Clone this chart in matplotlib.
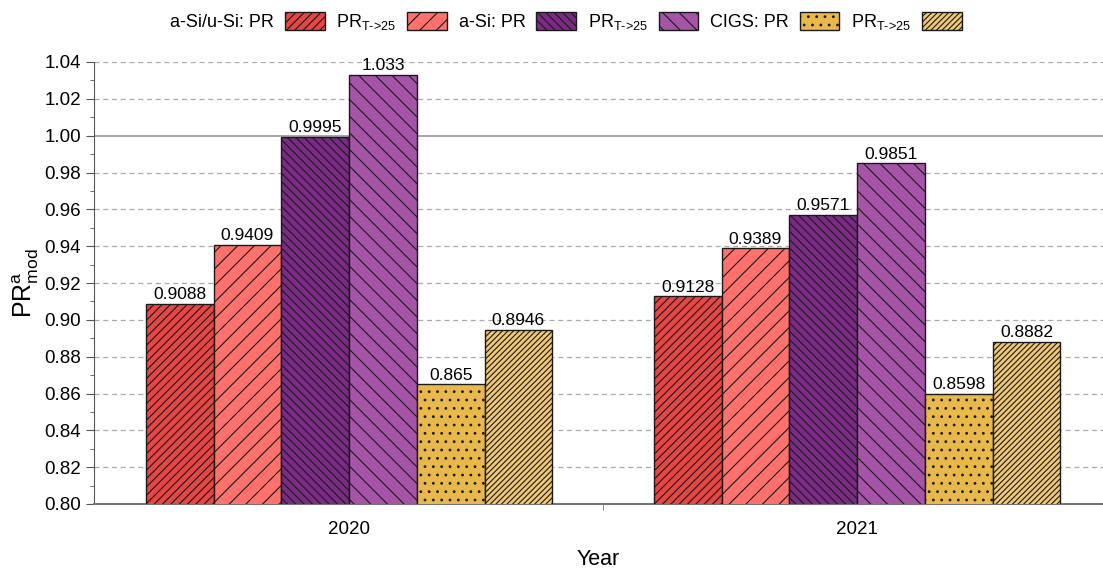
import numpy as np
import matplotlib
matplotlib.use('Agg')
import matplotlib.pyplot as plt
from matplotlib.ticker import MultipleLocator

plt.rcParams['font.family'] = ['Liberation Sans', 'DejaVu Sans']
plt.rcParams['mathtext.fontset'] = 'custom'
plt.rcParams['mathtext.rm'] = 'Liberation Sans'
plt.rcParams['hatch.linewidth'] = 0.8

# === data ===
years = ['2020', '2021']
prt = r'PR$_{\mathregular{T}\text{->}\mathregular{25}}$'
series_labels = ['a-Si/u-Si: PR', prt, 'a-Si: PR', prt, 'CIGS: PR', prt]
asi_usi_pr = [0.9088, 0.9128]
asi_usi_prt = [0.9409, 0.9389]
asi_pr = [0.9995, 0.9571]
asi_prt = [1.033, 0.9851]
cigs_pr = [0.865, 0.8598]
cigs_prt = [0.8946, 0.8882]
value_text = [['0.9088', '0.9128'], ['0.9409', '0.9389'], ['0.9995', '0.9571'],
              ['1.033', '0.9851'], ['0.865', '0.8598'], ['0.8946', '0.8882']]

series = [asi_usi_pr, asi_usi_prt, asi_pr, asi_prt, cigs_pr, cigs_prt]
colors = ['#E84545', '#FF716C', '#7B2A86', '#A654A8', '#E9B84A', '#F0C872']
hatches = ['////', '//', '\\\\\\\\', '\\\\', '..', '//////']

fig = plt.figure(figsize=(11.03, 5.74), dpi=100)
ax = fig.add_axes([94 / 1103, 70 / 574, 1 - 94 / 1103, 442 / 574])

x = np.arange(len(years))
width = 0.8 / 6
handles = []
for i, vals in enumerate(series):
    pos = x - 0.4 + width * (i + 0.5)
    b = ax.bar(pos, vals, width, bottom=0, color=colors[i], hatch=hatches[i],
               edgecolor='#1a1a1a', linewidth=1.0, zorder=3)
    handles.append(b)
    for p, v, t in zip(pos, vals, value_text[i]):
        ax.text(p, v + 0.0008, t, ha='center', va='bottom', fontsize=12.5, zorder=4)

ax.set_ylim(0.80, 1.04)
ax.set_xlim(-0.502, 1.484)
ax.yaxis.set_major_locator(MultipleLocator(0.02))
ax.yaxis.set_minor_locator(MultipleLocator(0.01))
ax.yaxis.set_major_formatter(plt.FormatStrFormatter('%.2f'))
ax.set_xticks(x)
ax.set_xticklabels(years)
ax.set_xticks([0.5], minor=True)

for yv in np.arange(0.82, 1.041, 0.02):
    if abs(yv - 1.0) < 1e-6:
        ax.axhline(yv, color='#999999', lw=1.2, zorder=1)
    else:
        ax.axhline(yv, color='#aaaaaa', lw=0.9, ls=(0, (4, 3)), zorder=1)

for s in ['top', 'right']:
    ax.spines[s].set_visible(False)
ax.spines['left'].set_color('#555555')
ax.spines['bottom'].set_color('#777777')
ax.spines['bottom'].set_linewidth(1.5)
ax.tick_params(axis='both', which='major', labelsize=13.5, direction='out', length=6,
               color='#555555')
ax.tick_params(axis='y', which='minor', length=3, color='#555555')
ax.tick_params(axis='x', which='minor', length=4, color='#777777')
ax.tick_params(axis='x', which='major', length=0, pad=12)

ax.set_ylabel(r'PR$_{\mathregular{mod}}^{\mathregular{a}}$', fontsize=18, labelpad=2)
ax.set_xlabel('Year', fontsize=15.5, labelpad=8)

fig.legend(handles, series_labels, loc='center', bbox_to_anchor=(0.513, 0.962), ncol=6,
           frameon=False, markerfirst=False, fontsize=13, handlelength=2.2,
           handleheight=1.15, columnspacing=0.65, handletextpad=0.6)

fig.savefig('out.png', dpi=100)
